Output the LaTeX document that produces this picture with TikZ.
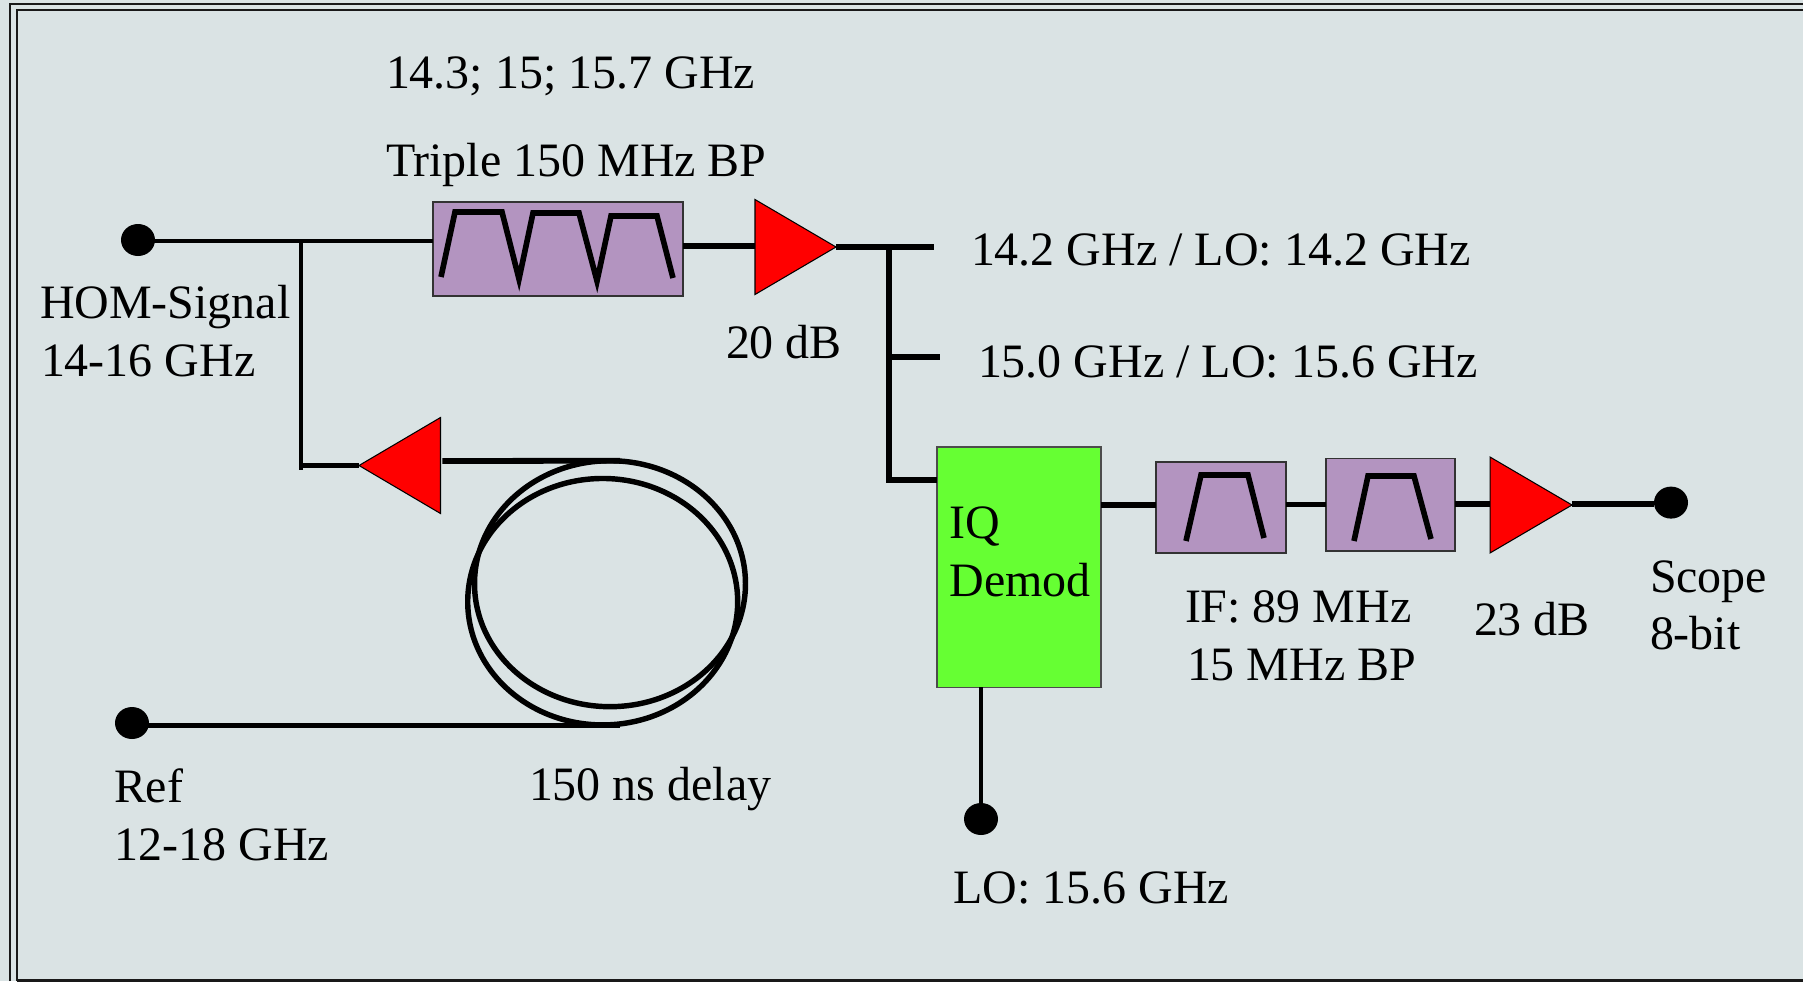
\documentclass[tikz,border=0pt]{standalone}
\usepackage{fontspec}
\setmainfont{Liberation Serif}
\usetikzlibrary{shapes.geometric,calc}
\definecolor{bgc}{HTML}{DAE3E4}
\definecolor{filt}{HTML}{B394C0}
\definecolor{demod}{HTML}{66FF33}
\tikzset{
  x=0.02cm,y=-0.02cm,
  wire/.style={line width=3.3pt,black},
  thinwire/.style={line width=2.7pt,black},
  curve/.style={line width=3.2pt,black,line join=miter},
  frameline/.style={line width=1.7pt,black!90},
  dot/.style={ellipse,fill=black,inner sep=0,outer sep=0,minimum width=0.68cm,minimum height=0.64cm},
  filterbox/.style={draw=black!80,line width=0.7pt,fill=filt,rectangle,inner sep=0,outer sep=0},
  amp/.style={isosceles triangle,isosceles triangle stretches,draw=black,line width=0.6pt,fill=red,inner sep=0,outer sep=0,anchor=apex},
  coil/.style={ellipse,draw=black,line width=3.1pt,inner sep=0,outer sep=0},
  lbl/.style={font=\fontsize{27.3}{32.9}\selectfont,inner sep=0,outer sep=0,anchor=base west,text=black},
}
\begin{document}
\begin{tikzpicture}
\useasboundingbox (0,0) rectangle (1803,981);
\fill[bgc] (0,0) rectangle (1803,981);
% frame
\draw[frameline] (10,981) -- (10,4) -- (1803,4);
\draw[frameline] (17,981) -- (17,10) -- (1803,10);
\draw[frameline] (17,980) -- (1803,980);
% terminals
\node[dot] (hom) at (138,240) {};
\node[dot] (ref) at (132,723) {};
\node[dot] (lo) at (981,819) {};
\node[dot] (scope) at (1671,502.6) {};
% boxes
\node[filterbox,minimum width=5cm,minimum height=1.88cm] (bp) at (558,249) {};
\node[filterbox,minimum width=2.6cm,minimum height=1.82cm] (ifa) at (1221,507.5) {};
\node[filterbox,minimum width=2.58cm,minimum height=1.85cm] (ifb) at (1390.5,504.7) {};
\node[draw=black!70,line width=0.7pt,fill=demod,rectangle,inner sep=0,outer sep=0,minimum width=3.28cm,minimum height=4.81cm] (iq) at (1019,567.2) {};
% amplifiers
\node[amp,minimum width=1.9cm,minimum height=1.62cm] (ampa) at (836,247) {};
\node[amp,minimum width=1.92cm,minimum height=1.64cm] (ampc) at (1572,505) {};
\node[amp,shape border rotate=180,minimum width=1.92cm,minimum height=1.63cm] (ampb) at (359,465.5) {};
% coil
\node[coil,minimum width=5.42cm,minimum height=4.92cm] (coila) at (610,583.7) {};
\node[coil,minimum width=5.4cm,minimum height=4.93cm] (coilb) at (602.7,601.7) {};
% junction points
\coordinate (ja) at (301,241);
\coordinate (jb) at (301,465.5);
\coordinate (jc) at (889,247);
\coordinate (jd) at (889,357);
\coordinate (je) at (889,480);
\coordinate (outa) at (934,247);
\coordinate (outb) at (940,357);
\coordinate (homout) at ($(hom)+(0,1)$);
\coordinate (refout) at ($(ref)+(0,2.5)$);
% connectors
\draw[thinwire] (homout) -- (homout -| bp.west);
\draw[thinwire] (ja) -- (301,470);
\draw[wire] (jb) -- (ampb.apex);
\draw[wire] (ampb.lower side |- 0,461) ++(2,0) -- ($(coila.north)+(10,0)$);
\draw[wire] (refout) -- (refout -| 620,0);
\draw[wire] (683,246) -- (ampa.west |- 0,246);
\draw[wire] (ampa.apex) -- (outa);
\draw[wire] (jc) -- (je) -- (iq.west |- je);
\draw[wire] (jd) -- (outb);
\draw[wire] (iq.east |- 0,505) -- (ifa.west |- 0,505);
\draw[wire] (ifa.east |- 0,504.5) -- (ifb.west |- 0,504.5);
\draw[wire] (ifb.east |- 0,504) -- (1490,504);
\draw[wire] (ampc.apex) ++(0,-1) -- (scope.west |- 0,504);
\draw[thinwire] (iq.south -| lo) -- (lo);
% filter curves
\draw[curve] (441,277) -- (455,212) -- (502,212) -- (519,279) -- (533,213) -- (579,213) -- (597,281) -- (611,216) -- (657,216) -- (673,278);
\draw[curve] (1186,541) -- (1201,475) -- (1248,475) -- (1264,538);
\draw[curve] (1354,541) -- (1368,476) -- (1414,476) -- (1431,539);
% labels
\node[lbl] (t1) at (386,88.5) {14.3; 15; 15.7 GHz};
\node[lbl] (t2) at (386,176) {Triple 150 MHz BP};
\node[lbl] (t3) at (40,318.5) {HOM-Signal};
\node[lbl] (t3b) at (41,376) {14-16 GHz};
\node[lbl] (t4) at (726,358) {20 dB};
\node[lbl] (t5) at (971,265) {14.2 GHz / LO: 14.2 GHz};
\node[lbl] (t6) at (978,377) {15.0 GHz / LO: 15.6 GHz};
\node[lbl] (t7) at (949.5,538) {IQ};
\node[lbl] (t7b) at (949.5,596.5) {Demod};
\node[lbl] (t8) at (1185,622) {IF: 89 MHz};
\node[lbl] (t8b) at (1187,680) {15 MHz BP};
\node[lbl] (t9) at (1474,635) {23 dB};
\node[lbl] (t10) at (1650,592) {Scope};
\node[lbl] (t10b) at (1650,649) {8-bit};
\node[lbl] (t11) at (953.5,903) {LO: 15.6 GHz};
\node[lbl] (t12) at (114,802.5) {Ref};
\node[lbl] (t12b) at (114.5,860) {12-18 GHz};
\node[lbl] (t13) at (529,800) {150 ns delay};
\end{tikzpicture}
\end{document}
